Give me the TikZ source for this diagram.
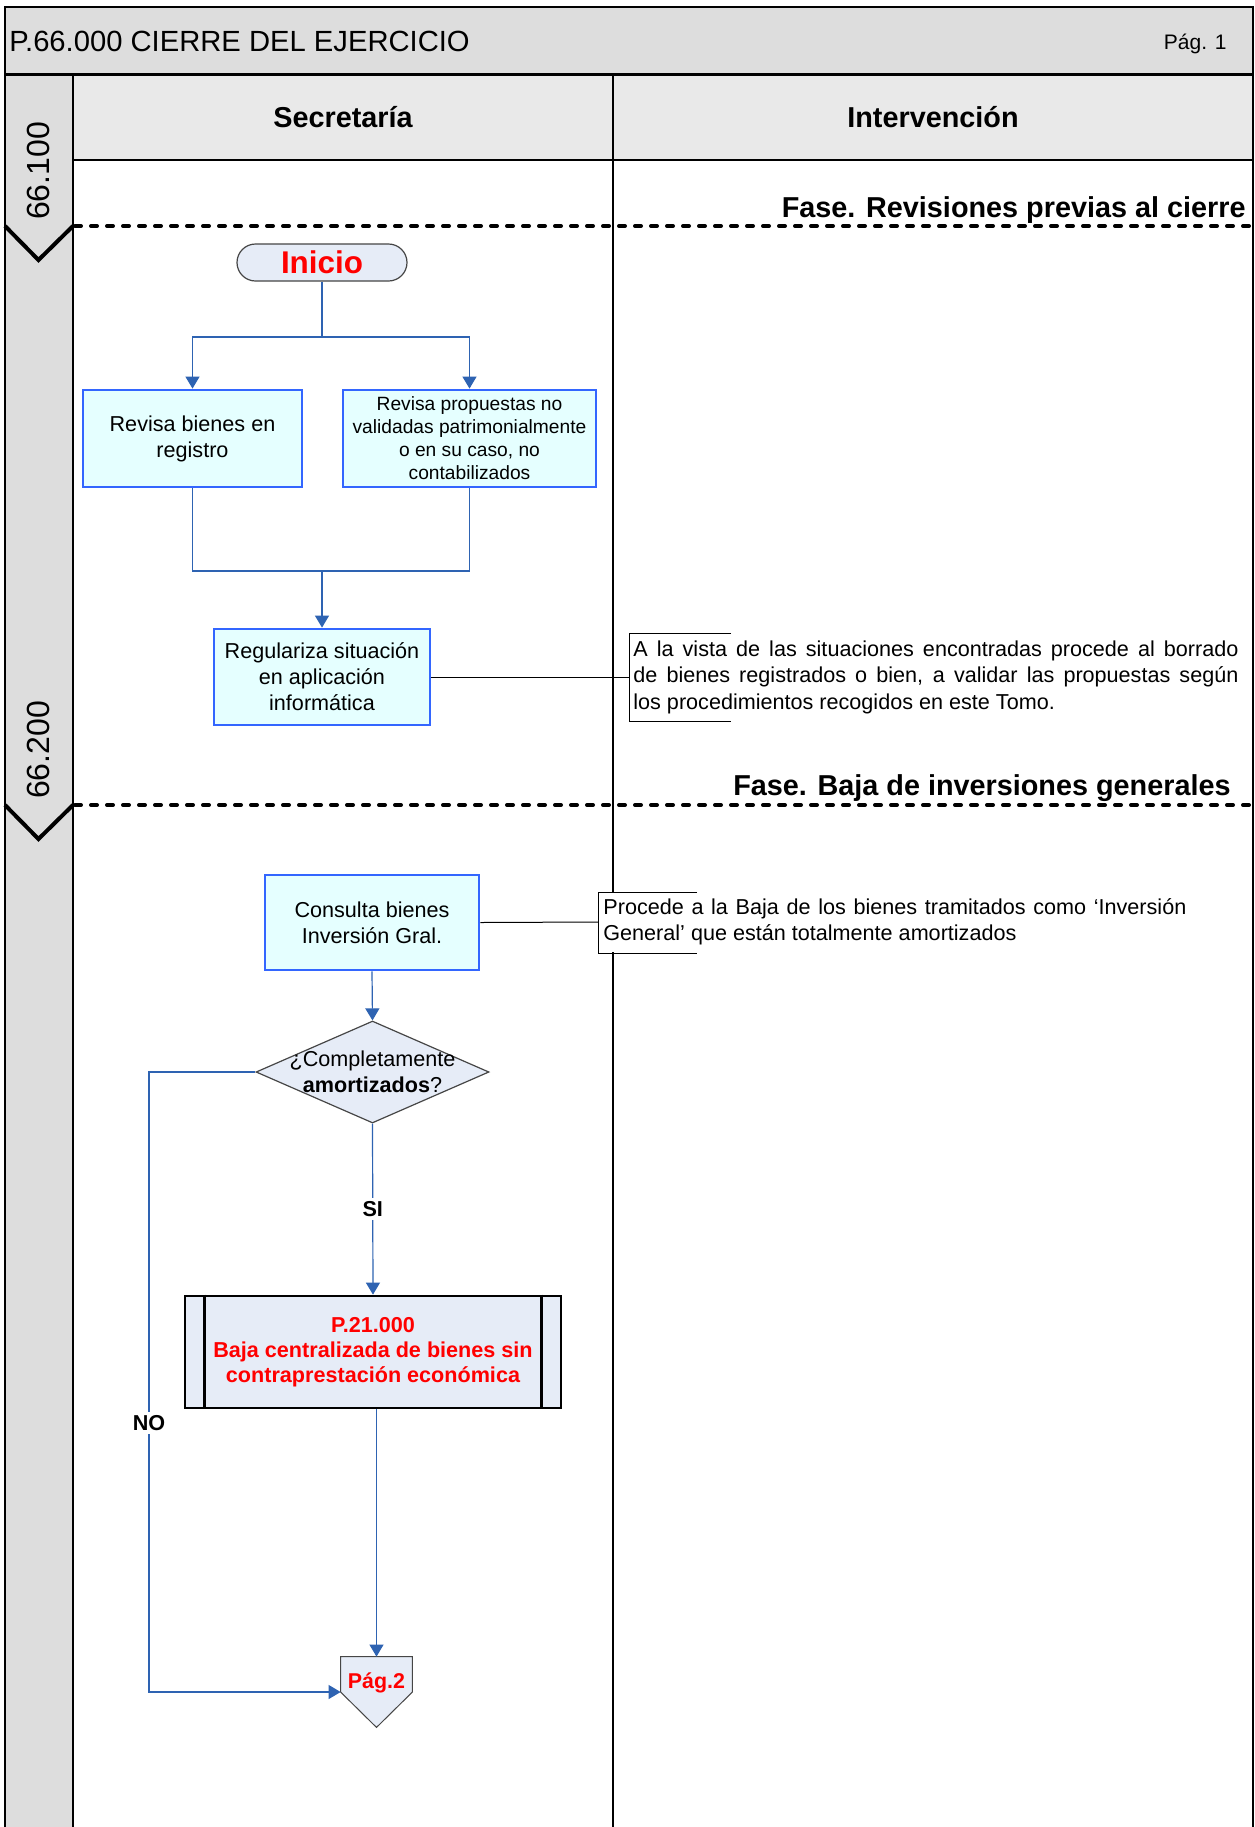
\documentclass[tikz,border=0pt]{standalone}
\usepackage{fontspec}
\setmainfont{Liberation Sans}
\usetikzlibrary{shapes.geometric,arrows.meta}
\definecolor{hdrgray}{RGB}{221,221,221}
\definecolor{lanegray}{RGB}{233,233,233}
\definecolor{colgray}{RGB}{221,221,221}
\definecolor{procfill}{RGB}{229,255,255}
\definecolor{procborder}{RGB}{51,102,255}
\definecolor{connblue}{RGB}{46,99,178}
\definecolor{termfill}{RGB}{230,236,247}
\definecolor{termborder}{RGB}{70,70,70}
\begin{document}
\begin{tikzpicture}[x=0.5pt,y=-0.5pt,
  frame/.style={draw=black, line width=0.6pt},
  phase/.style={draw=black, line width=2pt, dash pattern=on 3pt off 5pt, line cap=round},
  chev/.style={draw=black, line width=2pt},
  proc/.style={rectangle, draw=procborder, line width=1.4pt, fill=procfill, align=center, inner sep=0pt, font=\fontsize{10.8}{13}\selectfont},
  term/.style={rectangle, rounded corners=9.25pt, draw=termborder, line width=0.6pt, fill=termfill, minimum width=85pt, minimum height=18.5pt, inner sep=0pt, text=red, font=\bfseries\fontsize{15.7}{18}\selectfont},
  dec/.style={diamond, draw=termborder, line width=0.6pt, fill=termfill, minimum width=116.5pt, minimum height=51pt, inner sep=0pt},
  sub/.style={rectangle, draw=black, line width=1.4pt, fill=termfill, minimum width=188pt, minimum height=56pt, inner sep=0pt, align=center, text=red, font=\bfseries\fontsize{10.8}{12.5}\selectfont},
  conn/.style={draw=connblue, line width=0.6pt},
  arr/.style={conn, -{Triangle[length=6pt,width=7pt]}},
  lbl/.style={fill=white, inner sep=1.5pt, font=\bfseries\fontsize{10.8}{13}\selectfont},
  annot/.style={draw=black, line width=0.5pt},
  note/.style={anchor=west, inner sep=0pt, align=left, font=\fontsize{10.8}{13.25}\selectfont},
  lanehead/.style={font=\bfseries\fontsize{14.4}{17}\selectfont},
  phasehead/.style={anchor=base east, inner sep=0pt, font=\bfseries\fontsize{14.4}{17}\selectfont},
  phnum/.style={rotate=90, font=\fontsize{16}{19}\selectfont}
]
\useasboundingbox (0,0) rectangle (1254,1827);
\fill[white] (0,0) rectangle (1254,1827);
% backgrounds
\fill[hdrgray] (5,7) rectangle (1253,74);
\fill[colgray] (5,76) rectangle (73,1827);
\fill[lanegray] (73,76) rectangle (1253,160);
\draw[frame] (5,1827) -- (5,7) -- (1253,7) -- (1253,1827);
\draw[line width=1.3pt] (5,74.5) -- (1253,74.5);
\draw[frame] (73,76) -- (73,1827);
\draw[frame] (613,76) -- (613,1827);
\draw[frame] (73,160) -- (1253,160);
% header texts
\node[anchor=west, inner sep=0pt, font=\fontsize{14.6}{17}\selectfont] (title) at (9,41) {P.66.000 CIERRE DEL EJERCICIO};
\node[anchor=east, inner sep=0pt, font=\fontsize{10.5}{12}\selectfont] (page) at (1227,44) {Pág. 1};
\node[lanehead] (lane1) at (343,117) {Secretaría};
\node[lanehead] (lane2) at (933,117) {Intervención};
% phases
\node[phasehead] (ph1) at (1246,217) {Fase. Revisiones previas al cierre};
\node[phasehead] (ph2) at (1231,795) {Fase. Baja de inversiones generales};
\draw[phase] (75,226) -- (1253,226);
\draw[phase] (75,805) -- (1253,805);
\draw[chev] (5,226) -- (38.5,260) -- (73,226);
\draw[chev] (5,805) -- (38.5,839) -- (73,805);
\node[phnum] (n1) at (38,171) {66.100};
\node[phnum] (n2) at (38,750) {66.200};
% nodes
\node[term] (ini) at (322,262.5) {Inicio};
\node[proc, minimum width=109.5pt, minimum height=48.5pt] (b1) at (192.5,438.5) {Revisa bienes en\\registro};
\node[proc, minimum width=126.5pt, minimum height=48.5pt, font=\fontsize{9.6}{11.5}\selectfont] (b2) at (469.5,438.5) {Revisa propuestas no\\validadas patrimonialmente\\o en su caso, no\\contabilizados};
\node[proc, minimum width=108pt, minimum height=48pt] (b3) at (322,677) {Regulariza situación\\en aplicación\\informática};
\node[proc, minimum width=107pt, minimum height=47.5pt] (b4) at (372,922.5) {Consulta bienes\\Inversión Gral.};
\node[dec] (dec) at (372.5,1072) {};
\node[align=center, inner sep=0pt, font=\fontsize{10.8}{13}\selectfont] (dect) at (dec.center) {¿Completamente\\\textbf{amortizados}?};
\node[sub] (p21) at (373,1352) {P.21.000\\Baja centralizada de bienes sin\\contraprestación económica};
\draw[line width=1.2pt] ([xshift=10.5pt]p21.north west) -- ([xshift=10.5pt]p21.south west);
\draw[line width=1.2pt] ([xshift=-10.5pt]p21.north east) -- ([xshift=-10.5pt]p21.south east);
\node[inner sep=0pt, minimum width=35.5pt, minimum height=35pt] (pag2) at (376.5,1692) {};
\filldraw[draw=termborder, fill=termfill, line width=0.5pt] (pag2.north west) -- (pag2.north east) -- (pag2.east) -- (pag2.south) -- (pag2.west) -- cycle;
\node[inner sep=0pt, text=red, font=\bfseries\fontsize{10.7}{12}\selectfont] (pag2t) at (376.5,1683) {Pág.2};
% connectors
\coordinate (j1) at (322,337);
\draw[conn] (ini.south) -- (j1);
\draw[arr] (j1) -| (b1.north);
\draw[arr] (j1) -| (b2.north);
\coordinate (j2) at (322,571);
\draw[conn] (b1.south) |- (j2);
\draw[conn] (b2.south) |- (j2);
\draw[arr] (j2) -- (b3.north);
\draw[arr] (b4.south) -- (dec.north);
\draw[arr] (dec.south) -- node[lbl] (si) {SI} (p21.north);
\coordinate (nc) at (149,1072);
\draw[arr] (dec.west) -- (nc) |- node[lbl, pos=0.283] (no) {NO} (pag2.west);
\draw[arr] (p21.south -| pag2.north) -- (pag2.north);
% annotations
\coordinate (a1) at (629,677);
\draw[annot] (b3.east) -- (a1);
\draw[annot] (731,633) -- (629,633) -- (629,721) -- (731,721);
\node[note] (t1) at (633,677) {\makebox[302.5pt][s]{A la vista de las situaciones encontradas procede al borrado}\\\makebox[302.5pt][s]{de bienes registrados o bien, a validar las propuestas según}\\los procedimientos recogidos en este Tomo.};
\coordinate (a2) at (598,922);
\fill[white] (598,892) rectangle (1190,952);
\draw[annot] (b4.east) -- (a2);
\draw[annot] (697,892) -- (598,892) -- (598,953) -- (697,953);
\node[note] (t2) at (603,922) {\makebox[291.5pt][s]{Procede a la Baja de los bienes tramitados como ‘Inversión}\\General’ que están totalmente amortizados};
\end{tikzpicture}
\end{document}
